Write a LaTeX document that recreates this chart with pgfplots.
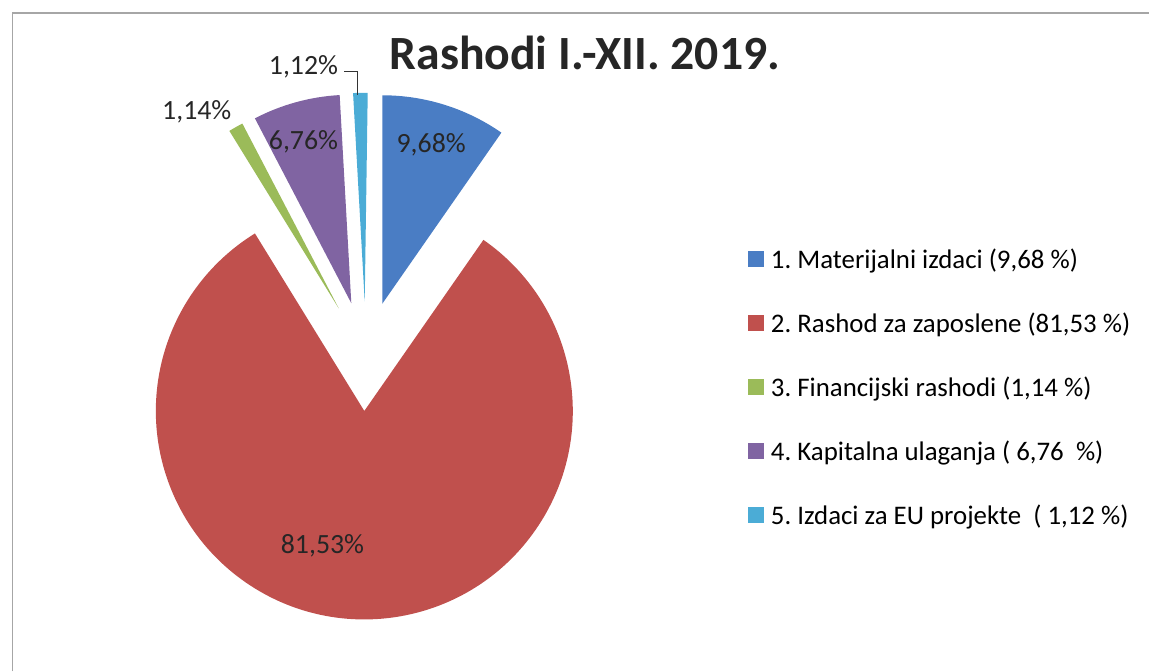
\documentclass[border=0pt]{standalone}
\usepackage{pgfplots}
\pgfplotsset{compat=1.18}
\usepackage{pgfplotstable}
\usepackage{fontspec}
\setmainfont{Carlito}
\frenchspacing

\definecolor{slice0}{HTML}{4A7DC4}
\definecolor{slice1}{HTML}{C0504D}
\definecolor{slice2}{HTML}{9BBB59}
\definecolor{slice3}{HTML}{8064A2}
\definecolor{slice4}{HTML}{4BACD6}

% shares in percent, clockwise from 12 o'clock
\pgfplotstableread{
share
9.68
81.53
1.14
6.76
1.12
}\shares

% pie geometry, in pixels (1 axis unit = 1bp)
\def\cx{364.5}
\def\cy{316}
\def\rad{209}
\def\expl{55}

\begin{document}
\gdef\cum{0}
\foreach \i in {0,...,4}{%
  \pgfplotstablegetelem{\i}{share}\of\shares
  \pgfmathsetmacro\a{90-3.6*\cum}%
  \pgfmathsetmacro\b{90-3.6*(\cum+\pgfplotsretval)}%
  \pgfmathsetmacro\m{(\a+\b)/2}%
  \pgfmathsetmacro\tx{\cx+\expl*cos(\m)}%
  \pgfmathsetmacro\ty{\cy+\expl*sin(\m)}%
  \expandafter\xdef\csname sa\i\endcsname{\a}%
  \expandafter\xdef\csname sb\i\endcsname{\b}%
  \expandafter\xdef\csname tx\i\endcsname{\tx}%
  \expandafter\xdef\csname ty\i\endcsname{\ty}%
  \pgfmathsetmacro\newcum{\cum+\pgfplotsretval}%
  \xdef\cum{\newcum}%
}%
\begin{tikzpicture}
\begin{axis}[
  scale only axis,
  width=1150bp, height=673bp,
  xmin=0, xmax=1150, ymin=0, ymax=673,
  hide axis, clip=false,
  legend style={at={(0.6496,0.633)}, anchor=north west, draw=none, fill=none,
    font=\fontsize{27}{32}\selectfont, row sep=39bp, column sep=6bp,
    inner xsep=0pt, inner ysep=0pt},
  legend cell align=left,
  legend image code/.code={\fill[#1] (0bp,-7.5bp) rectangle (15bp,7.5bp);},
]
\path (axis cs:0,0) rectangle (axis cs:1150,673);
\draw[black!35, line width=1.2bp] (axis cs:10,0) -- (axis cs:10,660) -- (axis cs:1150,660);

\pgfplotsinvokeforeach{0,...,4}{
  \fill[slice#1] (axis cs:\csname tx#1\endcsname,\csname ty#1\endcsname)
    -- ++(\csname sa#1\endcsname:\rad bp)
    arc[start angle=\csname sa#1\endcsname, end angle=\csname sb#1\endcsname, radius=\rad bp]
    -- cycle;
}

\addlegendimage{slice0}\addlegendentry{1. Materijalni izdaci (9,68 \%)}
\addlegendimage{slice1}\addlegendentry{2. Rashod za zaposlene (81,53 \%)}
\addlegendimage{slice2}\addlegendentry{3. Financijski rashodi (1,14 \%)}
\addlegendimage{slice3}\addlegendentry{4. Kapitalna ulaganja ( 6,76~~\%)}
\addlegendimage{slice4}\addlegendentry{5. Izdaci za EU projekte~ ( 1,12 \%)}

\begin{scope}[every node/.style={font=\fontsize{28}{32}\selectfont, text=black!85}]
\node at (axis cs:430,528) {9,68\%};
\node at (axis cs:302,531) {6,76\%};
\node at (axis cs:321,126) {81,53\%};
\node at (axis cs:195,561) {1,14\%};
\node at (axis cs:302,606) {1,12\%};
\end{scope}
\draw[black!80, line width=1bp] (axis cs:343,601) -- (axis cs:356,601) -- (axis cs:356,578);

\node[anchor=base, font=\bfseries\fontsize{48}{56}\selectfont, text=black!85]
  at (axis cs:584,603) {Rashodi I.-XII. 2019.};
\end{axis}
\end{tikzpicture}
\end{document}
